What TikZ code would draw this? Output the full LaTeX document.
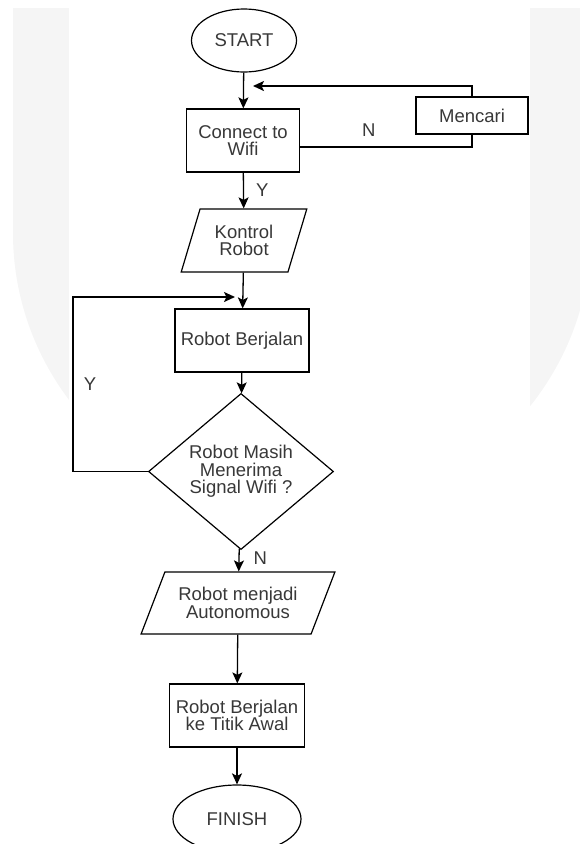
\documentclass[tikz,border=0pt]{standalone}
\usepackage{fontspec}
\setmainfont{Liberation Sans}
\usetikzlibrary{arrows.meta,
                shapes.geometric
            }

\begin{document}
\begin{tikzpicture}[x=1pt, y=-1pt,
        every node/.style={font=\fontsize{18.5}{17.5}\selectfont, text=black!78, align=center},
        terminal/.style={draw, ellipse, line width=1.2pt, fill=white, inner sep=0pt},
        prosesbox/.style={draw, rectangle, line width=1.2pt, fill=white, inner sep=0pt},
        iobox/.style={draw, trapezium, trapezium stretches=true, line width=1.2pt, fill=white, inner sep=0pt},
        decision/.style={draw, diamond, line width=1.2pt, fill=white, inner sep=0pt},
        panah/.style={-{Stealth[length=11pt, width=10pt, inset=2.5pt]}, line width=1.3pt},
        balik/.style={panah, line width=1.9pt},
        garis/.style={line width=1.9pt},
        lbl/.style={inner sep=0pt}
    ]
            \useasboundingbox (0, 0) rectangle (579, 844);
            % watermark
            \fill[black!4] (13, 8) -- (591, 8) -- (591, 233) arc[start angle=0, end angle=180, x radius=289, y radius=282] -- cycle;
            \fill[white] (69, 8) rectangle (530, 844);

            \node[terminal, minimum width=105, minimum height=63] (start) at (244, 40.5) {START};
            \node[prosesbox, minimum width=113, minimum height=63] (connect) at (243, 140.5) {Connect to\\Wifi};
            \node[prosesbox, minimum width=112, minimum height=37] (mencari) at (472, 115.5) {Mencari};
            \node[iobox, trapezium left angle=68, trapezium right angle=112, minimum width=126, minimum height=63] (kontrol) at (244, 240.5) {Kontrol\\Robot};
            \node[prosesbox, minimum width=134, minimum height=63] (jalan) at (242, 340.5) {Robot Berjalan};
            \node[decision, minimum width=185, minimum height=123] (cek) at (241, 471.5) {Robot Masih\\Menerima\\Signal Wifi ?};
            \node[iobox, trapezium left angle=58, trapezium right angle=122, minimum width=194, minimum height=62] (auto) at (238, 603) {Robot menjadi\\Autonomous};
            \node[prosesbox, minimum width=135, minimum height=63] (pulang) at (237, 715.5) {Robot Berjalan\\ke Titik Awal};
            \node[terminal, minimum width=128, minimum height=68] (finish) at (237, 819) {FINISH};

            \coordinate (retry) at (253, 86);
            \coordinate (loopin) at (235, 297);

            \draw[panah] (start) -- (connect);
            \draw[panah] (connect) -- node[lbl, right=12pt] (ya1) {Y} (kontrol);
            \draw[panah] (kontrol) -- (jalan);
            \draw[panah] (jalan) -- (cek);
            \draw[panah] (cek) -- node[lbl, pos=0.4, right=14pt] (tidak2) {N} (auto);
            \draw[panah] (auto) -- (pulang);
            \draw[panah] (pulang) -- (finish);

            % loops
            \draw[garis] ([yshift=-6.5pt]connect.east) -| node[lbl, pos=0.2, above=10pt] (tidak1) {N} (mencari.south);
            \draw[balik] (mencari.north) |- (retry);
            \draw[balik] (cek.west) -- ++(-75, 0) |- node[lbl, pos=0.25, right=10pt] (ya2) {Y} (loopin);
        \end{tikzpicture}
\end{document}
